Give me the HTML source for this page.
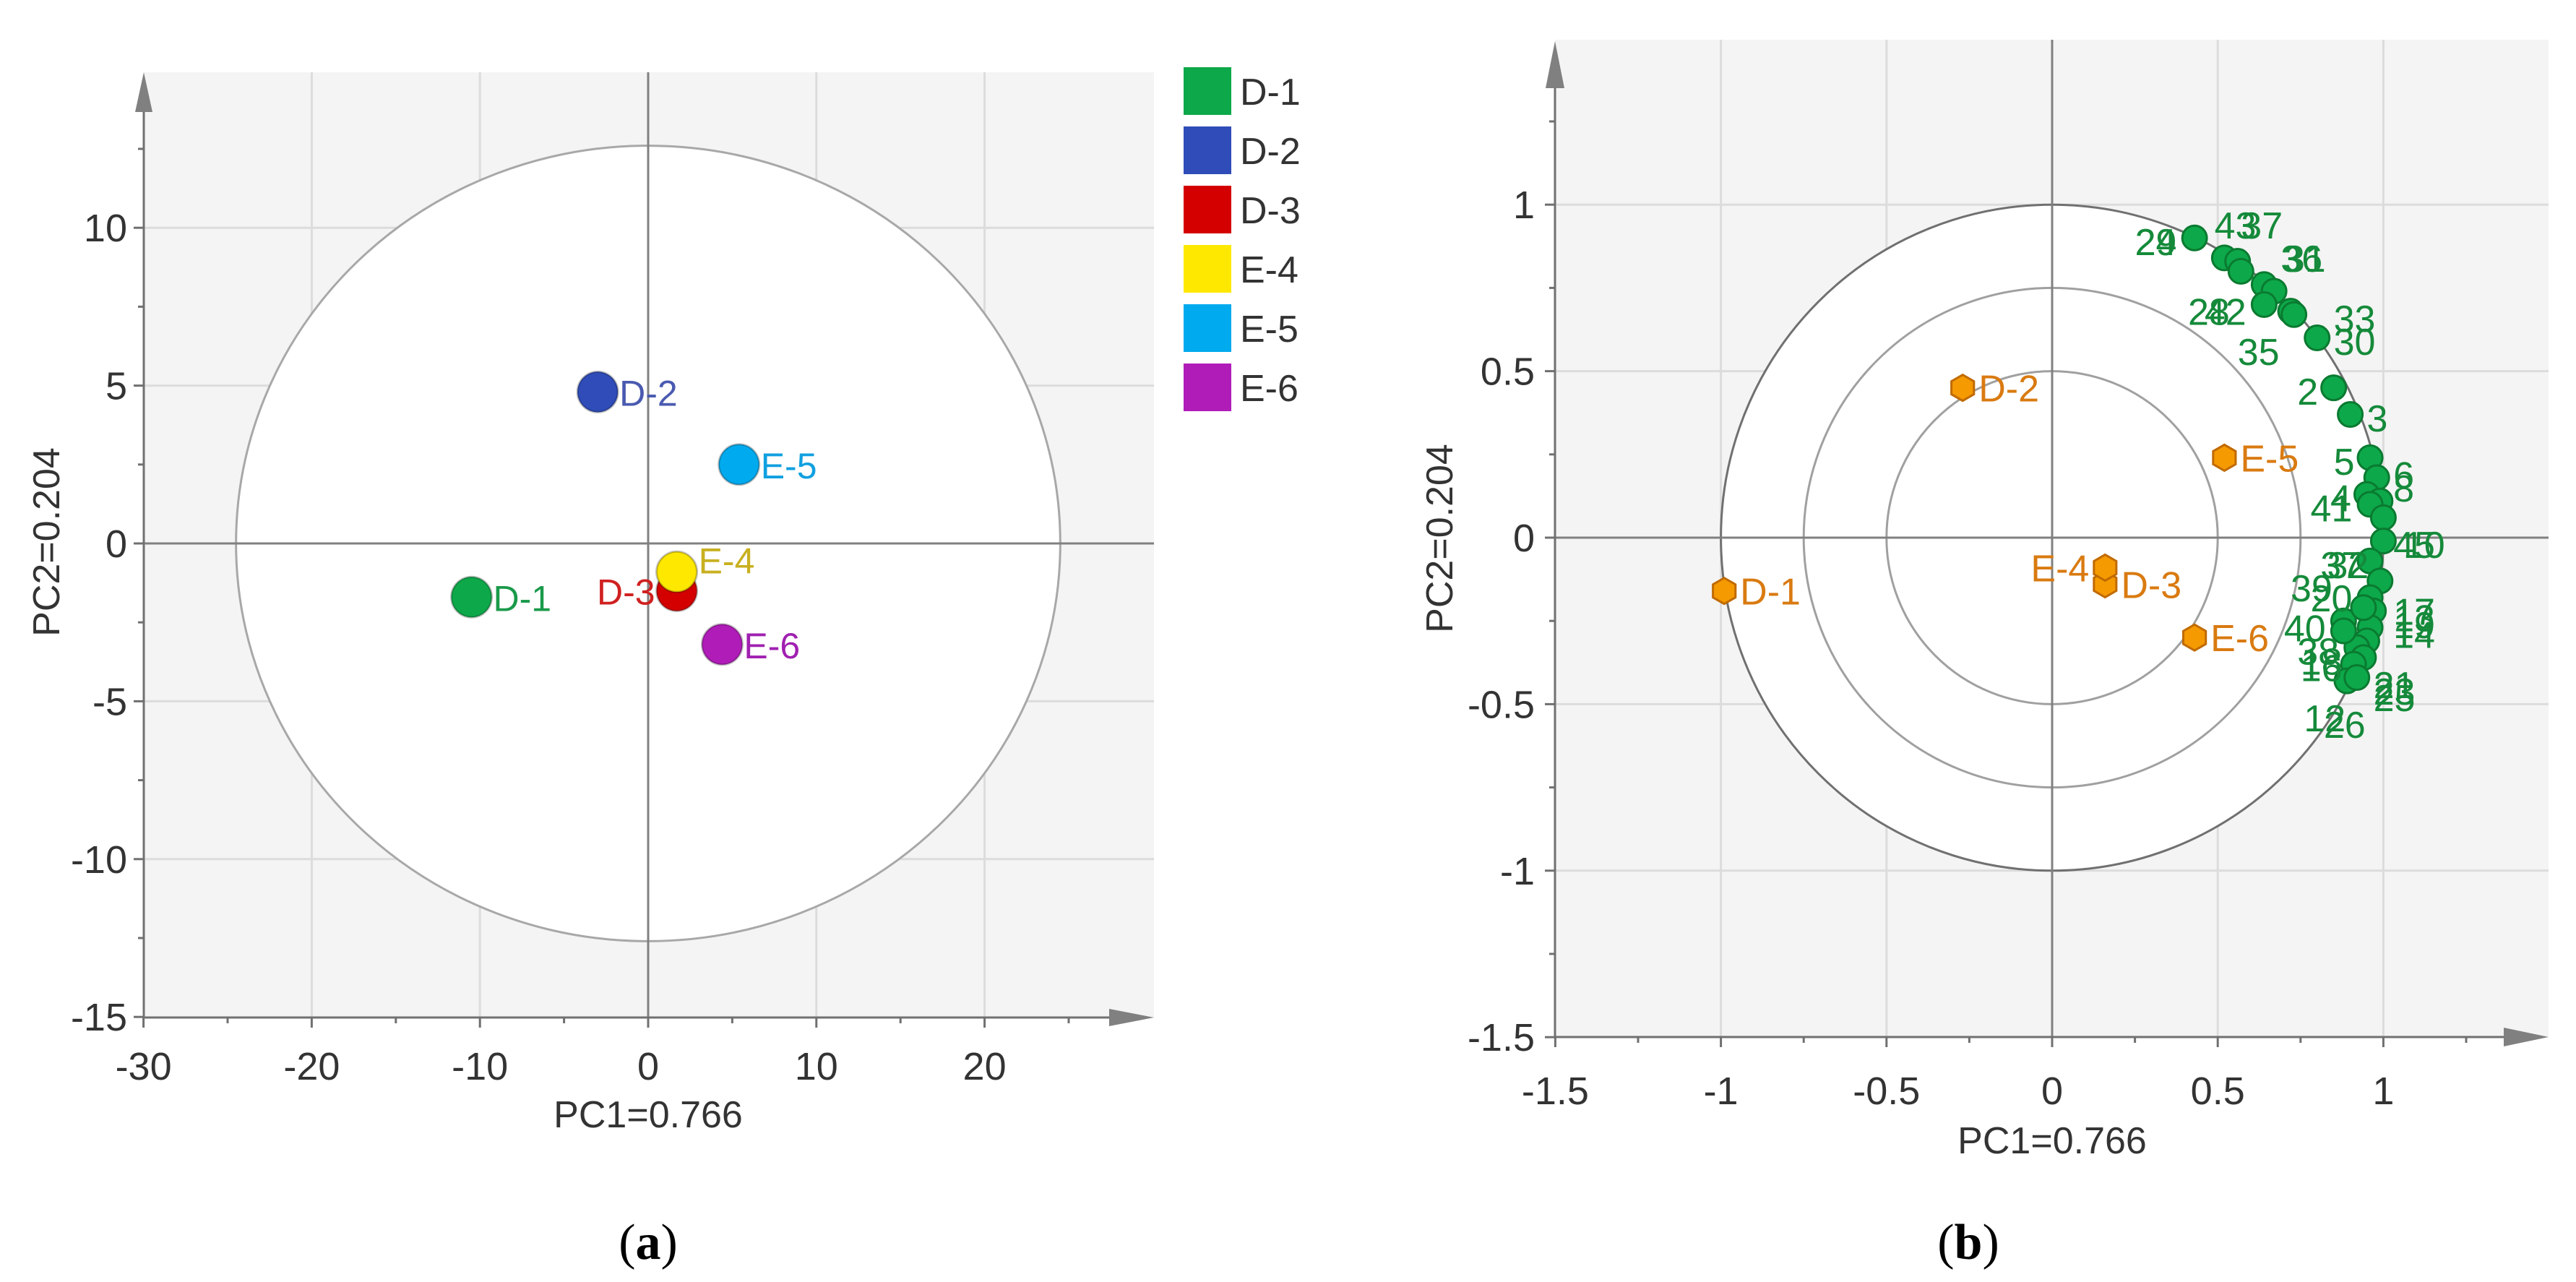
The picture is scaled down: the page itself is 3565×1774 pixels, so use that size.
<!DOCTYPE html>
<html><head><meta charset="utf-8"><style>
html,body{margin:0;padding:0;background:#fff;}
svg{display:block;font-family:"Liberation Sans",sans-serif;}
</style></head><body>
<svg id="fig" width="3565" height="1774" viewBox="0 0 3565 1774" xmlns="http://www.w3.org/2000/svg">
<defs><clipPath id="legclip"><rect x="1600" y="60" width="200" height="520"/></clipPath></defs>
<g id="pa"></g>
<g id="pb"></g>
<text x="897" y="1742" font-family="Liberation Serif,serif" font-size="70" text-anchor="middle">(<tspan font-weight="bold">a</tspan>)</text>
<text x="2724" y="1742" font-family="Liberation Serif,serif" font-size="70" text-anchor="middle">(<tspan font-weight="bold">b</tspan>)</text>
</svg>
<script>
// ---- Panel A data ----
const aNames = ["D-1","D-2","D-3","E-4","E-5","E-6"];
const aColors = ["#0da84a","#2f4cb8","#d40000","#ffe800","#00aaee","#b01cb8"];
const aTextColors = ["#1a9a4a","#4a5ab0","#d02020","#c8b020","#10a0e0","#a020b0"];
const aPC1 = [-10.5,-3.0,1.7,1.7,5.4,4.4];
const aPC2 = [-1.7,4.8,-1.5,-0.9,2.5,-3.2];
const aXTicks = [-30,-20,-10,0,10,20];
const aYTicks = [-15,-10,-5,0,5,10];
// ---- Panel B data ----
const bNames = ["D-1","D-2","D-3","E-4","E-5","E-6"];
const bPC1 = [-0.99,-0.27,0.16,0.16,0.52,0.43];
const bPC2 = [-0.16,0.45,-0.14,-0.09,0.24,-0.30];
const gX = [0.43,0.52,0.56,0.57,0.64,0.67,0.64,0.72,0.73,0.80,0.85,0.90,0.96,0.98,0.95,0.99,0.96,1.00,1.00,0.96,0.99,0.96,0.97,0.88,0.96,0.95,0.92,0.94,0.91,0.89,0.92,0.88,0.94];
const gY = [0.90,0.84,0.83,0.80,0.76,0.74,0.70,0.68,0.67,0.60,0.45,0.37,0.24,0.18,0.13,0.11,0.10,0.06,-0.01,-0.07,-0.13,-0.18,-0.22,-0.25,-0.27,-0.31,-0.33,-0.36,-0.38,-0.43,-0.42,-0.28,-0.21];
const gLabels = ["29","24","43","37","36","31","28","42","33","35","30","2","3","5","6","8","4","41","45","10","37","32","39","20","17","13","19","14","40","38","18","16","21","23","25","12","26"];
const gLabelX = [0.25,0.25,0.49,0.57,0.69,0.70,0.41,0.46,0.85,0.56,0.85,0.74,0.95,0.85,1.03,1.03,0.84,0.78,1.03,1.06,0.81,0.83,0.72,0.78,1.03,1.03,1.03,1.03,0.70,0.74,0.75,0.75,0.97,0.97,0.97,0.76,0.82];
const gLabelY = [0.89,0.89,0.94,0.94,0.84,0.84,0.68,0.68,0.66,0.56,0.59,0.44,0.36,0.23,0.19,0.15,0.12,0.09,-0.02,-0.02,-0.08,-0.08,-0.15,-0.18,-0.22,-0.24,-0.26,-0.29,-0.27,-0.34,-0.37,-0.39,-0.44,-0.46,-0.48,-0.54,-0.56];
const bXTicks = [-1.5,-1,-0.5,0,0.5,1];
const bYTicks = [-1.5,-1,-0.5,0,0.5,1];
const bCircles = [1,0.75,0.5];

const NS="http://www.w3.org/2000/svg";
function mk(parent,tag,attrs,text){const e=document.createElementNS(NS,tag);for(const k in attrs)e.setAttribute(k,attrs[k]);if(text!==undefined)e.textContent=text;parent.appendChild(e);return e;}

// ================= Panel A =================
(function(){
const g=document.getElementById('pa');
const x0=199,x1=1597,yTop=100,yBot=1408;
const sx=v=>897+v*23.28, sy=v=>752-v*43.68;
let e=mk(g,'rect',{x:x0,y:yTop,width:x1-x0,height:yBot-yTop,fill:'#f4f4f4'});

aXTicks.forEach(t=>{if(t!==-30&&t!==0){mk(g,'line',{x1:sx(t),x2:sx(t),y1:yTop,y2:yBot,stroke:'#dcdcdc','stroke-width':3});}});
aYTicks.forEach(t=>{if(t!==-15&&t!==0){mk(g,'line',{x1:x0,x2:x1,y1:sy(t),y2:sy(t),stroke:'#dcdcdc','stroke-width':3});}});
e=mk(g,'ellipse',{cx:sx(0),cy:sy(0),rx:24.5*23.28,ry:12.6*43.68,fill:'#fff',stroke:'#a8a8a8','stroke-width':3});

mk(g,'line',{x1:sx(0),x2:sx(0),y1:yTop,y2:yBot,stroke:'#808080','stroke-width':3});
mk(g,'line',{x1:x0,x2:x1,y1:sy(0),y2:sy(0),stroke:'#808080','stroke-width':3});
mk(g,'line',{x1:x0,x2:x0,y1:yBot,y2:130,stroke:'#707070','stroke-width':3});
mk(g,'line',{x1:x0,x2:1550,y1:yBot,y2:yBot,stroke:'#707070','stroke-width':3});
e=mk(g,'polygon',{points:`${x0-12},155 ${x0+12},155 ${x0},100`,fill:'#808080'});

e=mk(g,'polygon',{points:`1535,${yBot-12} 1535,${yBot+12} 1597,${yBot}`,fill:'#808080'});

for(let t=-30;t<=25;t+=5){mk(g,'line',{x1:sx(t),x2:sx(t),y1:yBot,y2:yBot+(t%10===0?14:8),stroke:'#707070','stroke-width':3});}
for(let t=-15;t<=12.5;t+=2.5){mk(g,'line',{x1:x0,x2:x0-(t%5===0?14:8),y1:sy(t),y2:sy(t),stroke:'#707070','stroke-width':3});}
aXTicks.forEach(t=>{const l=mk(g,'text',{x:sx(t),y:1494,'font-size':54,'text-anchor':'middle',fill:'#333'},String(t));
});
aYTicks.forEach(t=>{const l=mk(g,'text',{x:176,y:sy(t)+19,'font-size':54,'text-anchor':'end',fill:'#333'},String(t));
});
e=mk(g,'text',{x:897,y:1560,'font-size':52,'text-anchor':'middle',fill:'#333'},'PC1=0.766');

e=mk(g,'text',{x:0,y:0,'font-size':52,'text-anchor':'middle',fill:'#333',transform:'translate(82,750) rotate(-90)'},'PC2=0.204');

aNames.forEach((n,i)=>{
 const p=mk(g,'circle',{cx:sx(aPC1[i]),cy:sy(aPC2[i]),r:28,fill:aColors[i],stroke:'rgba(0,0,0,0.25)','stroke-width':3});
 
 
 const left=(n==='D-3');
 const t=mk(g,'text',{x:sx(aPC1[i])+(left?-30:30),y:sy(aPC2[i])+(n==='E-4'?2:19),'font-size':50,'text-anchor':left?'end':'start',fill:aTextColors[i]},n);
 
 
});
const lg=mk(g,'g',{'clip-path':'url(#legclip)'});

aNames.forEach((n,i)=>{
 const y=93+i*82;
 const s=mk(lg,'rect',{x:1638,y:y,width:66,height:66,fill:aColors[i]});
 
 
 const t=mk(lg,'text',{x:1716,y:y+52,'font-size':52,fill:'#333'},n);
 
 
});
})();

// ================= Panel B =================
(function(){
const g=document.getElementById('pb');
const x0=2152,x1=3527,yTop=55,yBot=1435;
const sx=v=>2840+v*458.4, sy=v=>744-v*460.8;
let e=mk(g,'rect',{x:x0,y:yTop,width:x1-x0,height:yBot-yTop,fill:'#f4f4f4'});

bXTicks.forEach(t=>{if(t!==-1.5&&t!==0)mk(g,'line',{x1:sx(t),x2:sx(t),y1:yTop,y2:yBot,stroke:'#dcdcdc','stroke-width':3});});
bYTicks.forEach(t=>{if(t!==-1.5&&t!==0)mk(g,'line',{x1:x0,x2:x1,y1:sy(t),y2:sy(t),stroke:'#dcdcdc','stroke-width':3});});
e=mk(g,'ellipse',{cx:sx(0),cy:sy(0),rx:458.4,ry:460.8,fill:'#fff'});

bCircles.forEach((r,i)=>{const c=mk(g,'ellipse',{cx:sx(0),cy:sy(0),rx:r*458.4,ry:r*460.8,fill:'none',stroke:i===0?'#707070':'#a0a0a0','stroke-width':3});
});
mk(g,'line',{x1:sx(0),x2:sx(0),y1:yTop,y2:yBot,stroke:'#808080','stroke-width':3});
mk(g,'line',{x1:x0,x2:x1,y1:sy(0),y2:sy(0),stroke:'#808080','stroke-width':3});
mk(g,'line',{x1:x0,x2:x0,y1:yBot,y2:90,stroke:'#707070','stroke-width':3});
mk(g,'line',{x1:x0,x2:3480,y1:yBot,y2:yBot,stroke:'#707070','stroke-width':3});
e=mk(g,'polygon',{points:`${x0-13},122 ${x0+13},122 ${x0},57`,fill:'#808080'});

e=mk(g,'polygon',{points:`3465,${yBot-13} 3465,${yBot+13} 3527,${yBot}`,fill:'#808080'});

for(let t=-1.5;t<=1.3;t+=0.25){mk(g,'line',{x1:sx(t),x2:sx(t),y1:yBot,y2:yBot+(Math.abs(t*2-Math.round(t*2))<1e-6?14:8),stroke:'#707070','stroke-width':3});}
for(let t=-1.5;t<=1.3;t+=0.25){mk(g,'line',{x1:x0,x2:x0-(Math.abs(t*2-Math.round(t*2))<1e-6?14:8),y1:sy(t),y2:sy(t),stroke:'#707070','stroke-width':3});}
bXTicks.forEach(t=>{const l=mk(g,'text',{x:sx(t),y:1528,'font-size':54,'text-anchor':'middle',fill:'#333'},String(t));
});
bYTicks.forEach(t=>{const l=mk(g,'text',{x:2124,y:sy(t)+19,'font-size':54,'text-anchor':'end',fill:'#333'},String(t));
});
e=mk(g,'text',{x:2840,y:1596,'font-size':52,'text-anchor':'middle',fill:'#333'},'PC1=0.766');

e=mk(g,'text',{x:0,y:0,'font-size':52,'text-anchor':'middle',fill:'#333',transform:'translate(2010,745) rotate(-90)'},'PC2=0.204');

gX.forEach((v,i)=>{const c=mk(g,'circle',{cx:sx(v),cy:sy(gY[i]),r:17,fill:'#0da84a',stroke:'#0a7a30','stroke-width':3});

});
gLabels.forEach((s,i)=>{const t=mk(g,'text',{x:sx(gLabelX[i]),y:sy(gLabelY[i])+19,'font-size':52,fill:'#158a3a'},s);

});
bNames.forEach((n,i)=>{
 const cx=sx(bPC1[i]),cy=sy(bPC2[i]),r=18;let pts=[];
 for(let k=0;k<6;k++){const a=Math.PI/6+k*Math.PI/3;pts.push((cx+r*Math.cos(a)).toFixed(1)+','+(cy+r*Math.sin(a)).toFixed(1));}
 const h=mk(g,'polygon',{points:pts.join(' '),fill:'#f59a00',stroke:'#c06a00','stroke-width':3});
 
 
 const left=(n==='E-4');
 const t=mk(g,'text',{x:cx+(left?-22:22),y:cy+19,'font-size':52,'text-anchor':left?'end':'start',fill:'#d97a10'},n);
 
 
});
})();
</script>
</body></html>
